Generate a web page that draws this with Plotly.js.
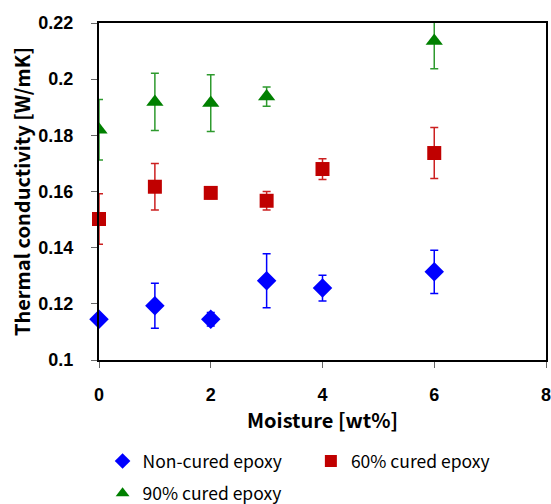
<!DOCTYPE html>
<html>
<head>
<meta charset="utf-8">
<script src="https://cdn.plot.ly/plotly-3.0.1.min.js"></script>
<style>html,body{margin:0;padding:0;background:#fff;}#chart{width:551px;height:504px;}</style>
</head>
<body>
<div id="chart"></div>
<script>
const moisture = [0, 1, 2, 3, 4, 6];
const nonCured = [0.1145, 0.1193, 0.1145, 0.1282, 0.1256, 0.1314];
const nonCuredErr = [0.0, 0.0080, 0.0024, 0.0096, 0.0046, 0.0077];
const cured60 = [0.1502, 0.1617, 0.1595, 0.1567, 0.1680, 0.1737];
const cured60Err = [0.0090, 0.0083, 0.0020, 0.0033, 0.0037, 0.0091];
const cured90X = [0, 1, 2, 3, 6];
const cured90 = [0.1820, 0.1919, 0.1915, 0.1938, 0.2136];
const cured90Err = [0.0108, 0.0102, 0.0101, 0.0034, 0.0099];
const seriesNames = ["Non-cured epoxy", "60% cured epoxy", "90% cured epoxy"];
const yTicks = [0.1, 0.12, 0.14, 0.16, 0.18, 0.2, 0.22];
const yTickText = ["0.1", "0.12", "0.14", "0.16", "0.18", "0.2", "0.22"];
const xTicks = [0, 2, 4, 6, 8];
const xTickText = ["0", "2", "4", "6", "8"];

const legendFont = {family: "Noto Sans CJK KR, Noto Sans", size: 17.5, color: "#000"};
const tickFont = {family: "Liberation Sans, Arial", size: 18, color: "#000"};
const titleFont = {family: "Noto Sans CJK KR, Noto Sans", size: 20, color: "#000"};

const traces = [
  {x: moisture, y: nonCured, name: seriesNames[0], mode: "markers", type: "scatter",
   marker: {symbol: "diamond", size: 15, color: "#0000FF"},
   error_y: {type: "data", array: nonCuredErr, visible: true, color: "#0000FF", thickness: 1.5, width: 4},
   cliponaxis: false, legend: "legend"},
  {x: moisture, y: cured60, name: seriesNames[1], mode: "markers", type: "scatter",
   marker: {symbol: "square", size: 14, color: "#C00000"},
   error_y: {type: "data", array: cured60Err, visible: true, color: "#CC2020", thickness: 1.5, width: 4},
   cliponaxis: false, legend: "legend2"},
  {x: cured90X, y: cured90, name: seriesNames[2], mode: "markers", type: "scatter",
   marker: {symbol: "triangle-up", size: 15, color: "#008000"},
   error_y: {type: "data", array: cured90Err, visible: true, color: "#2E9A2E", thickness: 1.5, width: 4},
   cliponaxis: true, legend: "legend3"}
];

function leg(x, y) {
  return {orientation: "h", x: x, y: y, xanchor: "left", yanchor: "middle",
          font: legendFont, itemsizing: "constant", itemwidth: 30,
          bgcolor: "rgba(0,0,0,0)", borderwidth: 0};
}

const layout = {
  width: 551, height: 504,
  margin: {l: 99, r: 5, t: 23, b: 144, autoexpand: false},
  paper_bgcolor: "#fff", plot_bgcolor: "#fff",
  showlegend: true,
  xaxis: {
    range: [0, 8], tickvals: xTicks, ticktext: xTickText.map(t => "<b>" + t + "</b>"),
    showgrid: false, zeroline: false,
    showline: true, linecolor: "#000", linewidth: 2, mirror: true,
    ticks: "outside", ticklen: 6, tickcolor: "#666", tickwidth: 1,
    ticklabelstandoff: 11, ticklabeloverflow: "allow",
    tickfont: tickFont,
    title: {text: "<b>Moisture [wt%]</b>", font: titleFont, standoff: 10}
  },
  yaxis: {
    range: [0.1, 0.22], tickvals: yTicks, ticktext: yTickText.map(t => "<b>" + t + "</b>"),
    showgrid: false, zeroline: false,
    showline: true, linecolor: "#000", linewidth: 2, mirror: true,
    ticks: "outside", ticklen: 6, tickcolor: "#666", tickwidth: 1,
    ticklabelstandoff: 14, ticklabeloverflow: "allow",
    tickfont: tickFont,
    title: {text: "<b>Thermal conductivity [W/mK]</b>", font: titleFont, standoff: 2}
  },
  legend: leg(0.008, -0.30),
  legend2: leg(0.474, -0.30),
  legend3: leg(0.008, -0.396)
};

Plotly.newPlot("chart", traces, layout, {displayModeBar: false, staticPlot: true});
</script>
</body>
</html>
